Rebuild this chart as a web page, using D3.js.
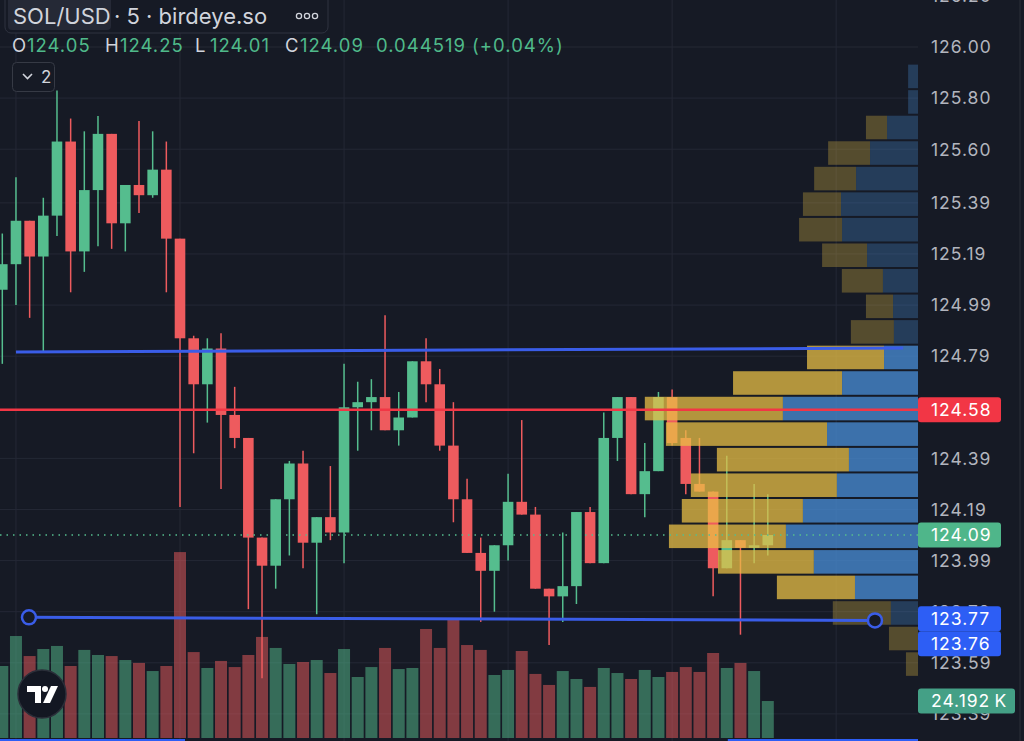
<!DOCTYPE html>
<html>
<head>
<meta charset="utf-8">
<script src="https://cdn.jsdelivr.net/npm/d3@7"></script>
<style>
  body { margin: 0; background: #161a25; overflow: hidden; }
  svg { display: block; font-family: Inter, "Noto Sans", sans-serif; }
</style>
</head>
<body>
<div id="chart"></div>
<script>
// SOL/USD 5 min candles
var opens  = [125.05,125.15,125.32,125.18,125.34,125.63,125.20,125.44,125.66,125.31,125.46,125.42,125.52,125.25,124.86,124.68,124.82,124.56,124.47,124.08,
              123.97,124.23,124.37,124.06,124.16,124.10,124.59,124.61,124.63,124.50,124.55,124.77,124.68,124.44,124.23,124.02,123.95,124.05,124.22,124.17,
              123.88,123.85,123.89,124.18,123.98,124.47,124.63,124.25,124.34,124.63,124.47,124.29,124.26,123.96,124.07,124.04,124.05];
var highs  = [125.27,125.49,125.32,125.41,125.83,125.72,125.67,125.73,125.66,125.46,125.71,125.67,125.63,125.25,124.87,124.86,124.88,124.67,124.47,124.08,
              124.23,124.38,124.42,124.16,124.36,124.76,124.69,124.70,124.95,124.65,124.77,124.86,124.74,124.61,124.31,124.08,124.05,124.33,124.54,124.20,
              123.88,124.10,124.18,124.20,124.57,124.63,124.63,124.45,124.65,124.66,124.50,124.47,124.26,124.40,124.07,124.29,124.25];
var lows   = [124.76,124.99,124.94,124.81,125.26,125.04,125.12,125.22,125.21,125.20,125.35,125.41,125.04,124.20,124.41,124.53,124.27,124.43,123.80,123.53,
              123.88,124.01,123.96,123.78,124.07,123.98,124.42,124.50,124.50,124.44,124.55,124.61,124.42,124.14,124.02,123.75,123.79,123.99,124.17,123.88,
              123.66,123.75,123.82,123.98,123.98,124.38,124.25,124.16,124.34,124.44,124.25,124.26,123.85,123.96,123.70,123.98,124.01];
var closes = [125.15,125.32,125.18,125.34,125.63,125.20,125.44,125.66,125.31,125.46,125.42,125.52,125.25,124.86,124.68,124.82,124.56,124.47,124.08,123.97,
              124.23,124.37,124.06,124.16,124.10,124.59,124.61,124.63,124.50,124.55,124.77,124.68,124.44,124.23,124.02,123.95,124.05,124.22,124.17,123.88,
              123.85,123.89,124.18,123.98,124.47,124.63,124.25,124.34,124.63,124.45,124.29,124.26,123.96,124.07,124.04,124.05,124.09];
// volume in thousands
var volumes = [47.1,66.7,53.6,58.2,60.2,47.1,57.6,54.3,53.6,51.0,49.1,43.8,47.1,121.6,56.2,45.8,50.4,46.4,54.3,66.1,
               58.9,48.4,49.7,51.0,42.5,58.2,39.9,46.4,58.9,45.1,45.8,71.3,58.9,78.5,60.8,57.6,41.2,44.5,56.9,41.9,
               34.7,43.8,38.6,33.4,45.8,42.5,38.6,44.5,39.9,43.2,46.4,43.2,55.6,45.8,49.1,43.8,24.192];

// volume profile rows of 0.1, from the top row down
var profileTop = 125.935;
var profileUp   = [0,0,7.7,15.3,15.3,13.9,15.7,16.4,15.0,9.9,15.7,28.1,39.8,50.4,58.8,48.2,53.3,44.2,42.7,35.0,28.5,21.2,10.6,4.4];
var profileDown = [3.6,3.6,11.3,17.5,22.6,28.1,27.7,18.6,12.8,9.1,8.8,12.4,27.7,49.3,33.2,25.2,29.6,42.0,48.2,38.0,23.0,9.9,0,0];
var valueArea = [11, 20];

var priceTicks = [126.20,126.00,125.80,125.60,125.39,125.19,124.99,124.79,124.58,124.39,124.19,123.99,123.79,123.59,123.39];
var hourMarks = [1, 13, 25, 37, 49, 61];

var pocPrice = 124.58;
var lastPrice = 124.09;
// drawn trend lines: [candle index, price]
var topLine = [[1, 124.806], [65.9, 124.822]];
var bottomLine = [[1.95, 123.768], [63.84, 123.756]];

var legend = [["O", "124.05"], ["H", "124.25"], ["L", "124.01"], ["C", "124.09"]];
var change = ["0.044519", "(+0.04%)"];

window.onload = function() {
    var w = 1024, h = 741;
    var plotRight = 918;
    var upColor = "#55bd8e", downColor = "#ee5b5e";
    var lineBlue = "#3a5de8";
    var bg = "#161a25";

    var svg = d3.select("#chart").append("svg")
                .attr("width", w)
                .attr("height", h);

    svg.append("rect").attr("width", w).attr("height", h).attr("fill", bg);

    var x = d3.scaleLinear().domain([0, 56]).range([2.3, 767.8]);
    var y = d3.scaleLinear().domain([126.00, 123.59]).range([47, 662.8]);
    var yVol = d3.scaleLinear().domain([0, 100]).range([738, 585.1]);
    var xProf = d3.scaleLinear().domain([0, 100]).range([0, 274]);

    var plot = svg.append("g");
    plot.append("clipPath").attr("id", "clip")
        .append("rect").attr("width", plotRight).attr("height", h);
    plot.attr("clip-path", "url(#clip)");

    // grid
    plot.selectAll(".hgrid").data(priceTicks).enter().append("line")
        .attr("x1", 0).attr("x2", plotRight)
        .attr("y1", function(d) { return y(d); })
        .attr("y2", function(d) { return y(d); })
        .attr("stroke", "#242835").attr("stroke-width", 1);
    plot.selectAll(".vgrid").data(hourMarks).enter().append("line")
        .attr("x1", function(d) { return x(d); })
        .attr("x2", function(d) { return x(d); })
        .attr("y1", 0).attr("y2", h)
        .attr("stroke", "#242835").attr("stroke-width", 1);

    var idx = d3.range(opens.length);
    function isUp(i) { return closes[i] >= opens[i]; }

    // volume bars
    plot.selectAll(".vol").data(idx).enter().append("rect")
        .attr("x", function(i) { return x(i) - 6; })
        .attr("width", 12)
        .attr("y", function(i) { return yVol(volumes[i]); })
        .attr("height", function(i) { return yVol(0) - yVol(volumes[i]); })
        .attr("fill", function(i) { return isUp(i) ? upColor : downColor; })
        .attr("fill-opacity", 0.5);

    // candles
    plot.selectAll(".wick").data(idx).enter().append("line")
        .attr("x1", function(i) { return x(i); })
        .attr("x2", function(i) { return x(i); })
        .attr("y1", function(i) { return y(highs[i]); })
        .attr("y2", function(i) { return y(lows[i]); })
        .attr("stroke", function(i) { return isUp(i) ? upColor : downColor; })
        .attr("stroke-width", 1.5);
    plot.selectAll(".body").data(idx).enter().append("rect")
        .attr("x", function(i) { return x(i) - 5.3; })
        .attr("width", 10.6)
        .attr("y", function(i) { return y(Math.max(opens[i], closes[i])); })
        .attr("height", function(i) { return Math.max(1.5, Math.abs(y(opens[i]) - y(closes[i]))); })
        .attr("fill", function(i) { return isUp(i) ? upColor : downColor; });

    // volume profile
    var rows = d3.range(profileUp.length);
    var rowH = y(profileTop - 0.1) - y(profileTop);
    function inVA(r) { return r >= valueArea[0] && r <= valueArea[1]; }
    var prof = plot.append("g");
    prof.selectAll(".up").data(rows).enter().append("rect")
        .attr("x", function(r) { return plotRight - xProf(profileUp[r] + profileDown[r]); })
        .attr("width", function(r) { return xProf(profileUp[r]); })
        .attr("y", function(r) { return y(profileTop - 0.1 * r) + 1; })
        .attr("height", rowH - 2)
        .attr("fill", "#e8bf45")
        .attr("fill-opacity", function(r) { return inVA(r) ? 0.75 : 0.3; });
    prof.selectAll(".down").data(rows).enter().append("rect")
        .attr("x", function(r) { return plotRight - xProf(profileDown[r]); })
        .attr("width", function(r) { return xProf(profileDown[r]); })
        .attr("y", function(r) { return y(profileTop - 0.1 * r) + 1; })
        .attr("height", rowH - 2)
        .attr("fill", "#4a8fd8")
        .attr("fill-opacity", function(r) { return inVA(r) ? 0.75 : 0.3; });

    // price lines
    plot.append("line")
        .attr("x1", 0).attr("x2", plotRight)
        .attr("y1", y(lastPrice)).attr("y2", y(lastPrice))
        .attr("stroke", upColor).attr("stroke-width", 1.5)
        .attr("stroke-dasharray", "1.5,5");
    plot.append("line")
        .attr("x1", 0).attr("x2", plotRight)
        .attr("y1", y(pocPrice)).attr("y2", y(pocPrice))
        .attr("stroke", "#f23645").attr("stroke-width", 2.5);

    var lineGen = d3.line()
        .x(function(d) { return x(d[0]); })
        .y(function(d) { return y(d[1]); });
    plot.append("path").datum(topLine)
        .attr("d", lineGen).attr("stroke", lineBlue).attr("stroke-width", 3).attr("fill", "none");
    plot.append("path").datum(bottomLine)
        .attr("d", lineGen).attr("stroke", lineBlue).attr("stroke-width", 3).attr("fill", "none");
    plot.selectAll(".handle").data(bottomLine).enter().append("circle")
        .attr("cx", function(d) { return x(d[0]); })
        .attr("cy", function(d) { return y(d[1]); })
        .attr("r", 7)
        .attr("fill", bg).attr("stroke", lineBlue).attr("stroke-width", 2.5);

    // price axis
    var axis = svg.append("g").attr("transform", "translate(" + plotRight + ",0)");
    axis.append("line").attr("x1", 102).attr("x2", 102).attr("y1", 0).attr("y2", h)
        .attr("stroke", "#2a2e39");
    axis.selectAll(".tick").data(priceTicks).enter().append("text")
        .attr("x", 13)
        .attr("y", function(d) { return y(d); })
        .attr("dy", "0.36em")
        .attr("font-size", 17.5)
        .attr("letter-spacing", 1)
        .attr("fill", "#b2b5be")
        .text(function(d) { return d.toFixed(2); });

    function priceTag(cy, label, color, width) {
        axis.append("rect")
            .attr("x", 0).attr("y", cy - 12.5)
            .attr("width", width).attr("height", 25)
            .attr("rx", 3)
            .attr("fill", color);
        axis.append("text")
            .attr("x", 13).attr("y", cy).attr("dy", "0.36em")
            .attr("font-size", 17.5).attr("letter-spacing", 1).attr("fill", "#ffffff")
            .text(label);
    }
    priceTag(y(pocPrice), pocPrice.toFixed(2), "#f23645", 83);
    priceTag(y(lastPrice), lastPrice.toFixed(2), "#4fb68a", 83);
    var tagA = y(bottomLine[0][1]) + 1.5;
    priceTag(tagA, bottomLine[0][1].toFixed(2), "#2d5ef5", 83);
    priceTag(tagA + 25, bottomLine[1][1].toFixed(2), "#2d5ef5", 83);
    priceTag(yVol(volumes[volumes.length - 1]), d3.format(".3f")(volumes[volumes.length - 1]) + "\u2009K", "#44a086", 97);

    // bottom time selection bars
    svg.append("rect").attr("x", 0).attr("y", 739).attr("width", x(13) + 5).attr("height", 2).attr("fill", "#2d5ef5");
    svg.append("rect").attr("x", x(53) + 1).attr("y", 739).attr("width", plotRight - x(53) - 1).attr("height", 2).attr("fill", "#2d5ef5");

    // header
    var head = svg.append("g");
    head.append("rect").attr("x", 5).attr("y", -6).attr("width", 323).attr("height", 39)
        .attr("rx", 6).attr("fill", bg).attr("stroke", "#2f3340");
    head.append("rect").attr("x", 8).attr("y", -3).attr("width", 103).attr("height", 33)
        .attr("rx", 4).attr("fill", "#252936");
    head.append("text").attr("x", 13).attr("y", 24).attr("font-size", 22).attr("fill", "#d1d4dc")
        .text("SOL/USD");
    head.append("text").attr("x", 114).attr("y", 24).attr("font-size", 22).attr("fill", "#d1d4dc")
        .text("· 5 · birdeye.so");
    head.selectAll(".dot").data([0, 1, 2]).enter().append("circle")
        .attr("cx", function(d) { return 299 + d * 8; })
        .attr("cy", 16).attr("r", 2.6)
        .attr("fill", "none").attr("stroke", "#d1d4dc").attr("stroke-width", 1.3);

    var legX = [12, 105, 195, 285];
    legend.forEach(function(d, i) {
        head.append("text").attr("x", legX[i]).attr("y", 52).attr("font-size", 18.5)
            .attr("fill", "#d1d4dc").text(d[0]);
        head.append("text").attr("x", legX[i] + 15).attr("y", 52).attr("font-size", 18.5)
            .attr("letter-spacing", 1).attr("fill", "#4fb98a").text(d[1]);
    });
    head.append("text").attr("x", 376).attr("y", 52).attr("font-size", 18.5).attr("letter-spacing", 1)
        .attr("fill", "#4fb98a")
        .text(change[0] + " " + change[1]);

    head.append("rect").attr("x", 12.5).attr("y", 62.5).attr("width", 42).attr("height", 29)
        .attr("rx", 4).attr("fill", bg).attr("stroke", "#363a45");
    head.append("path").attr("d", "M23,74 L27.5,78.5 L32,74")
        .attr("fill", "none").attr("stroke", "#d1d4dc").attr("stroke-width", 1.6);
    head.append("text").attr("x", 41).attr("y", 83).attr("font-size", 17).attr("fill", "#d1d4dc").text("2");

    // tradingview logo
    var logo = svg.append("g").attr("transform", "translate(42,694)");
    logo.append("circle").attr("r", 24).attr("fill", "#131722").attr("stroke", "#2a2e39").attr("stroke-width", 1.5);
    logo.append("path").attr("d", "M-15,-8 H-1 V9 H-7 V-2 H-15 Z").attr("fill", "#ffffff");
    logo.append("circle").attr("cx", 3).attr("cy", -5).attr("r", 3).attr("fill", "#ffffff");
    logo.append("path").attr("d", "M9,-8 H16 L8,9 H1 Z").attr("fill", "#ffffff");
};
</script>
</body>
</html>
